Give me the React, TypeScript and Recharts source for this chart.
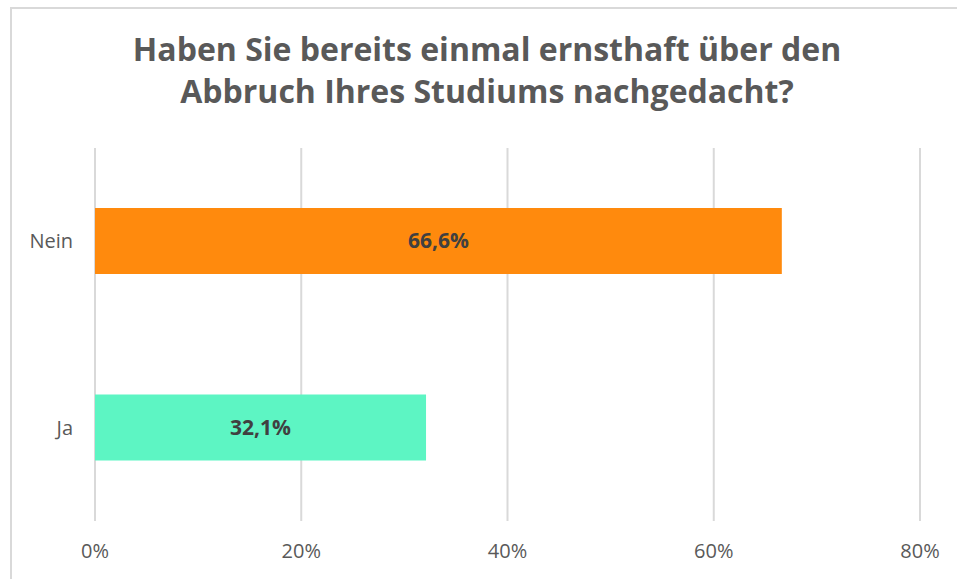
import React from "react";
import {
  BarChart,
  Bar,
  XAxis,
  YAxis,
  CartesianGrid,
  Cell,
  LabelList,
} from "recharts";

const categories = ["Nein", "Ja"];
const shares = [0.666, 0.321];
const barColors = ["#FF8A0D", "#5DF5C3"];
const xTicks = [0, 0.2, 0.4, 0.6, 0.8];
const titleLines = [
  "Haben Sie bereits einmal ernsthaft über den",
  "Abbruch Ihres Studiums nachgedacht?",
];

const data = categories.map((name, i) => ({ name, value: shares[i] }));

const pct = (v: number) => `${Math.round(v * 100)}%`;
const pctLabel = (v: any) => `${(Number(v) * 100).toFixed(1).replace(".", ",")}%`;

const font = "'Open Sans', sans-serif";

export default function App() {
  return (
    <div
      style={{
        position: "absolute",
        left: 0,
        top: 0,
        width: 957,
        height: 579,
        background: "#fff",
        overflow: "hidden",
        fontFamily: font,
      }}
    >
      <div
        style={{
          position: "absolute",
          left: 10,
          top: 7,
          width: 1000,
          height: 600,
          borderLeft: "2px solid #d9d9d9",
          borderTop: "2px solid #d9d9d9",
        }}
      />
      <div
        style={{
          position: "absolute",
          left: 0,
          top: 28,
          width: 974,
          textAlign: "center",
          fontSize: 32,
          lineHeight: "42px",
          fontWeight: 700,
          color: "#595959",
        }}
      >
        {titleLines.map((t) => (
          <div key={t}>{t}</div>
        ))}
      </div>
      <div style={{ position: "absolute", left: 0, top: 0 }}>
        <BarChart
          width={957}
          height={579}
          data={data}
          layout="vertical"
          margin={{ top: 148, right: 37, left: 15, bottom: 18 }}
        >
          <CartesianGrid horizontal={false} stroke="#d9d9d9" strokeWidth={2} />
          <XAxis
            type="number"
            domain={[0, 0.8]}
            ticks={xTicks}
            tickFormatter={pct}
            axisLine={false}
            tickLine={false}
            tickMargin={17}
            height={40}
            tick={{ fill: "#595959", fontSize: 20, fontFamily: font }}
          />
          <YAxis
            type="category"
            dataKey="name"
            width={80}
            axisLine={false}
            tickLine={false}
            tickMargin={16}
            tick={{ fill: "#595959", fontSize: 20, fontFamily: font }}
          />
          <Bar dataKey="value" barSize={66} isAnimationActive={false}>
            {data.map((d, i) => (
              <Cell key={d.name} fill={barColors[i]} />
            ))}
            <LabelList
              dataKey="value"
              position="center"
              formatter={pctLabel}
              fill="#404040"
              fontSize={21}
              fontWeight={700}
              fontFamily={font}
            />
          </Bar>
        </BarChart>
      </div>
    </div>
  );
}
